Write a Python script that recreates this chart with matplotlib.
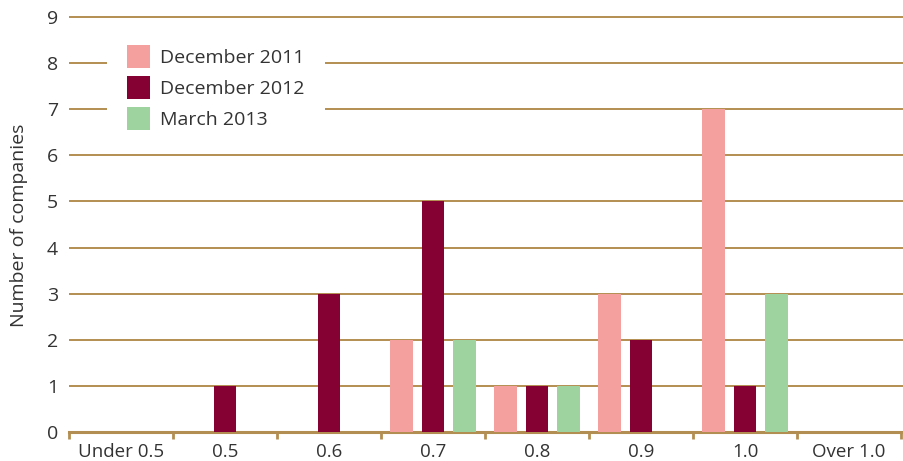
import numpy as np
import matplotlib.pyplot as plt
from matplotlib.ticker import FixedLocator

# data
categorias = ['Under 0.5', '0.5', '0.6', '0.7', '0.8', '0.9', '1.0', 'Over 1.0']
dez_2011 = [0, 0, 0, 2, 1, 3, 7, 0]
dez_2012 = [0, 1, 3, 5, 1, 2, 1, 0]
mar_2013 = [0, 0, 0, 2, 1, 0, 3, 0]

cor_grade = '#B38E52'
cor_texto = '#333333'
plt.rcParams['font.family'] = ['Open Sans', 'DejaVu Sans']

W, H = 904, 461
fig = plt.figure(figsize=(W / 100, H / 100), dpi=100)

# axes placed in pixels: y=0 at 432px, y=9 at 17px; x=0 at 69px, 104px per category
px_y = (432 - 17) / 9
y_top = 9.2
ax_top = 432 - y_top * px_y
ax_h = 432 - ax_top
px_x = 104
x_right = (W - 69) / px_x
ax = fig.add_axes([69 / W, (H - 432) / H, (W - 69) / W, ax_h / H])

x = np.arange(len(categorias)) + 0.5
larg = 0.22
desl = 0.30
ax.bar(x - desl, dez_2011, larg, color='#F4A09E', label='December 2011', zorder=3)
ax.bar(x, dez_2012, larg, color='#850033', label='December 2012', zorder=3)
ax.bar(x + desl, mar_2013, larg, color='#9ED29F', label='March 2013', zorder=3)

ax.set_xlim(0, x_right)
ax.set_ylim(0, y_top)

ax.set_yticks(range(10))
ax.yaxis.grid(True, color=cor_grade, linewidth=1.4, zorder=0)
ax.set_axisbelow(True)
ax.tick_params(axis='y', length=0, pad=8, labelsize=14, labelcolor=cor_texto)

ax.set_xticks(x)
ax.set_xticklabels(categorias)
ax.xaxis.set_minor_locator(FixedLocator(np.arange(0, 9)))
ax.tick_params(axis='x', which='major', length=0, pad=8, labelsize=13.5, labelcolor=cor_texto)
ax.tick_params(axis='x', which='minor', length=5, width=2, color=cor_grade)

for lado in ['top', 'right', 'left']:
    ax.spines[lado].set_visible(False)
ax.spines['bottom'].set_color(cor_grade)
ax.spines['bottom'].set_linewidth(2.2)

ax.set_ylabel('Number of companies', fontsize=14, color=cor_texto)
ax.yaxis.set_label_coords((28 - 69) / (W - 69), (432 - 225) / ax_h)

# legend: 23px square swatches, 31px row pitch
fs = 14
px_fs = fs * 100 / 72
hh = (23 - 0.245 * px_fs) / (0.65 * px_fs)
pad = 20
leg = ax.legend(loc='upper left', bbox_to_anchor=((127 - pad - 69) / (W - 69), (432 - (45 - pad)) / ax_h),
                borderaxespad=0, fontsize=fs, frameon=True, fancybox=False,
                handlelength=23 / px_fs, handleheight=hh, labelspacing=8 / px_fs,
                handletextpad=10 / px_fs, borderpad=pad / px_fs, labelcolor=cor_texto)
leg.get_frame().set_facecolor('white')
leg.get_frame().set_edgecolor('none')
leg.get_frame().set_alpha(1)
leg.set_zorder(5)

plt.savefig('out.png', dpi=100)
